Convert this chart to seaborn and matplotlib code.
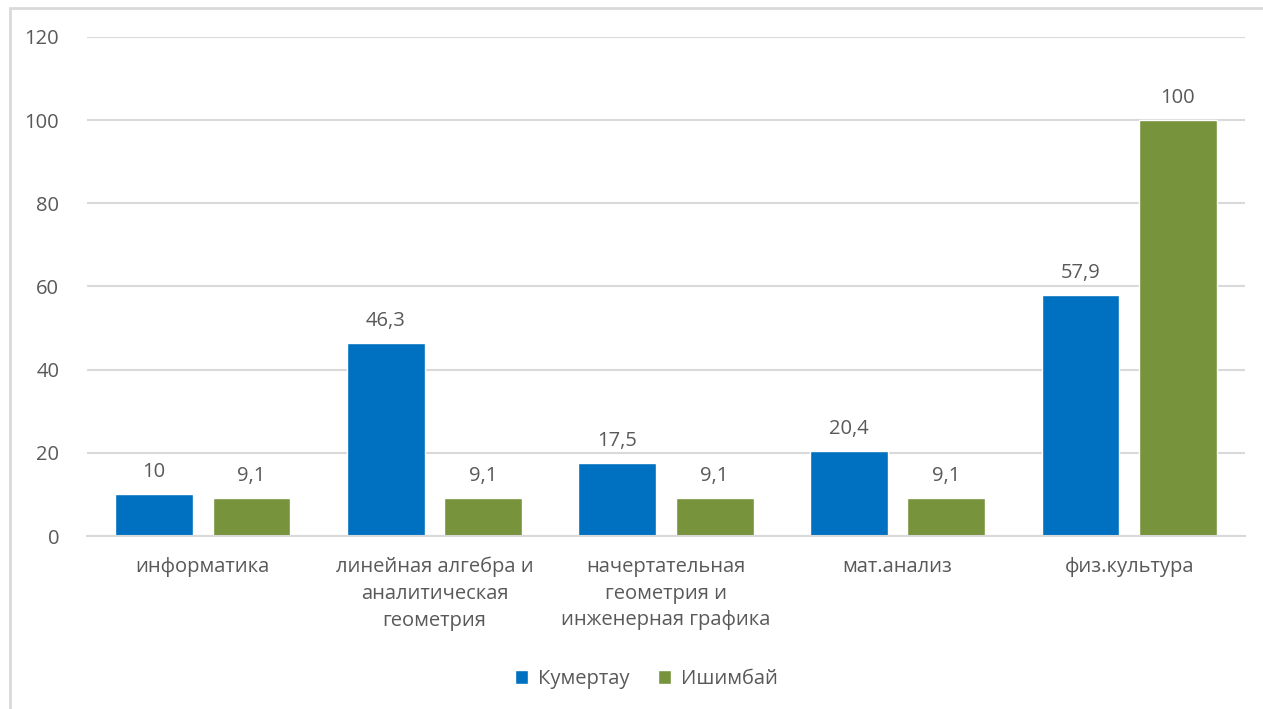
import pandas as pd
import seaborn as sns
import matplotlib.pyplot as plt
from matplotlib.patches import Rectangle

# Данные диаграммы
predmety = ['информатика',
            'линейная алгебра и\nаналитическая\nгеометрия',
            'начертательная\nгеометрия и\nинженерная графика',
            'мат.анализ',
            'физ.культура']
kumertau = [10, 46.3, 17.5, 20.4, 57.9]
ishimbai = [9.1, 9.1, 9.1, 9.1, 100]
goroda = ['Кумертау', 'Ишимбай']
cveta = ['#0070C0', '#77933C']

df = pd.DataFrame({
    'predmet': predmety * 2,
    'gorod': [goroda[0]] * len(predmety) + [goroda[1]] * len(predmety),
    'znachenie': kumertau + ishimbai,
})

sns.set_style('white')
plt.rcParams['font.family'] = ['Open Sans', 'DejaVu Sans']
seryi = '#595959'
razmer = 14.5

fig = plt.figure(figsize=(12.63, 7.09), dpi=100)
ax = fig.add_axes([0.0689, 0.244, 0.9168, 0.704])

sns.barplot(data=df, x='predmet', y='znachenie', hue='gorod',
            palette=cveta, width=0.84, gap=0.2, saturation=1, ax=ax)

# Подписи значений над столбцами
for cont in ax.containers:
    labels = [f'{v:g}'.replace('.', ',') for v in cont.datavalues]
    ax.bar_label(cont, labels=labels, padding=9, fontsize=razmer, color=seryi)

ax.set_ylim(0, 120)
ax.set_yticks(range(0, 121, 20))
ax.set_xlim(-0.5, 4.5)
ax.grid(axis='y', color='#D9D9D9', linewidth=1.5)
ax.set_axisbelow(True)
for s in ['top', 'right', 'left']:
    ax.spines[s].set_visible(False)
ax.spines['bottom'].set_color('#D9D9D9')
ax.spines['bottom'].set_linewidth(1.5)
ax.tick_params(axis='y', length=0, pad=20, labelsize=razmer, labelcolor=seryi)
ax.tick_params(axis='x', length=0, pad=15, labelsize=razmer, labelcolor=seryi)
for t in ax.get_xticklabels():
    t.set_linespacing(1.45)
ax.set_xlabel('')
ax.set_ylabel('')

leg = ax.legend(loc='center', bbox_to_anchor=(0.483, -0.287), ncol=2,
                frameon=False, fontsize=razmer, handlelength=0.65, handleheight=0.65,
                handletextpad=0.5, columnspacing=1.4)
for t in leg.get_texts():
    t.set_color(seryi)

# Рамка области диаграммы
fig.patches.append(Rectangle((10 / 1263, -0.1), 1.2, 1.1 - 8 / 709,
                             transform=fig.transFigure, fill=False,
                             edgecolor='#D9D9D9', linewidth=2))

fig.savefig('out.png', dpi=100)
